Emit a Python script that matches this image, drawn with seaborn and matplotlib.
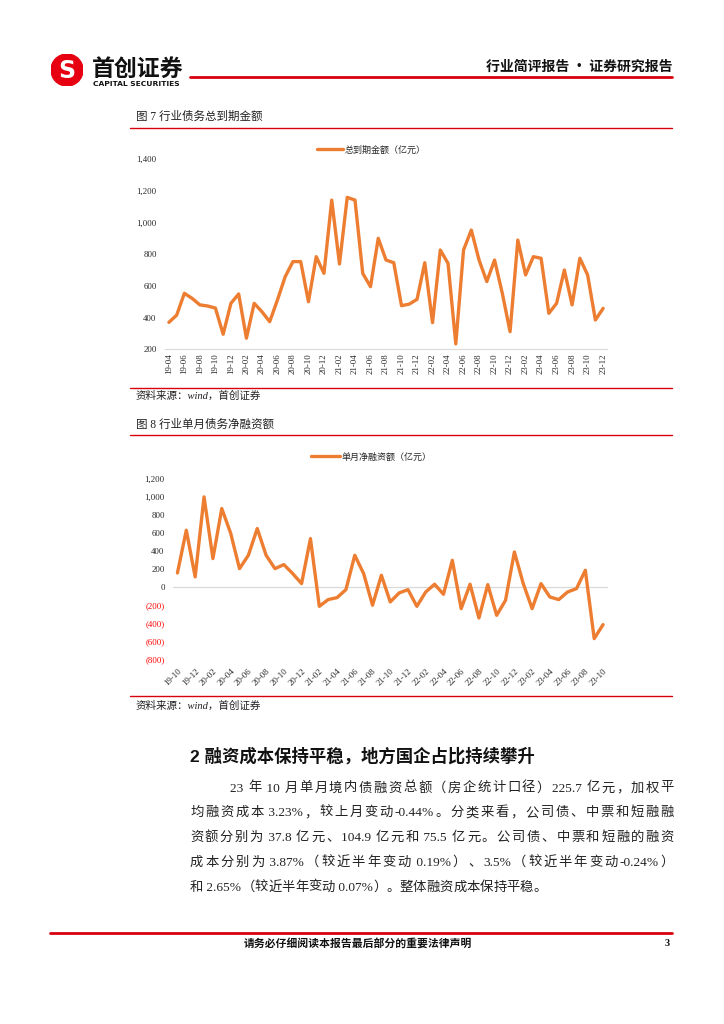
import numpy as np
import pandas as pd
import matplotlib
matplotlib.use("Agg")
import matplotlib.pyplot as plt
import seaborn as sns
from matplotlib.patches import Circle

## Datos (en 亿元)
total_vencimiento = [370, 415, 553, 521, 480, 473, 460, 295, 490,
                     549, 270, 490, 437, 374, 511, 658, 753, 753, 500, 784, 679,
                     1141, 738, 1158, 1141, 679, 595, 900, 763, 746, 475, 485, 515,
                     746, 368, 826, 742, 234, 826, 952, 763, 627, 763, 553, 311,
                     889, 669, 784, 774, 427, 490, 700, 480, 774, 669, 385, 458]
etiquetas_1 = ["19-04", "19-06", "19-08", "19-10", "19-12", "20-02", "20-04", "20-06",
               "20-08", "20-10", "20-12", "21-02", "21-04", "21-06", "21-08", "21-10",
               "21-12", "22-02", "22-04", "22-06", "22-08", "22-10", "22-12", "23-02",
               "23-04", "23-06", "23-08", "23-10", "23-12"]

neto_mensual = [156, 632, 112,
                1004, 316, 874, 600, 204, 353, 651, 353, 204, 249, 149, 37,
                539, -216, -141, -119, -30, 353, 149, -204, 130, -167, -67, -30,
                -216, -56, 30, -82, 297, -242, 30, -346, 26, -316, -149, 390,
                37, -242, 37, -112, -141, -56, -19, 186, -576, -420]
etiquetas_2 = ["19-10", "19-12", "20-02", "20-04", "20-06", "20-08", "20-10", "20-12",
               "21-02", "21-04", "21-06", "21-08", "21-10", "21-12", "22-02", "22-04",
               "22-06", "22-08", "22-10", "22-12", "23-02", "23-04", "23-06", "23-08",
               "23-10"]

ticks_y1 = [200, 400, 600, 800, 1000, 1200, 1400]
ticks_y2 = [-800, -600, -400, -200, 0, 200, 400, 600, 800, 1000, 1200]

parrafo = ["23 年 10 月单月境内债融资总额（房企统计口径）225.7 亿元，加权平",
           "均融资成本 3.23%，较上月变动-0.44%。分类来看，公司债、中票和短融融",
           "资额分别为 37.8 亿元、104.9 亿元和 75.5 亿元。公司债、中票和短融的融资",
           "成本分别为 3.87%（较近半年变动 0.19%）、3.5%（较近半年变动-0.24%）",
           "和 2.65%（较近半年变动 0.07%）。整体融资成本保持平稳。"]

sns.set_style("white")
plt.rcParams['font.family'] = ['Liberation Serif', 'Noto Sans CJK SC', 'DejaVu Sans']

W, H = 724, 1024
naranja = "#ED7D31"
rojo = "#D7000F"
gris = "#D9D9D9"
cjk = ['Noto Sans CJK SC', 'DejaVu Sans']
mixta = ['Liberation Serif', 'Noto Sans CJK SC']


def px(x, y):
    # pixeles (desde arriba a la izquierda) -> fraccion de figura
    return x / W, 1 - y / H


def caja(x0, y0, x1, y1):
    return [x0 / W, 1 - y1 / H, (x1 - x0) / W, (y1 - y0) / H]


def linea_h(fig, x0, x1, y, lw, color=rojo):
    fig.add_artist(plt.Line2D([x0 / W, x1 / W], [1 - y / H, 1 - y / H],
                              transform=fig.transFigure, color=color, lw=lw))


def ancho(fig, r, s, **kw):
    # ancho en pixeles (con espacios finales) usando un caracter testigo
    t = fig.text(0, 0, s + "|", **kw)
    t2 = fig.text(0, 0, "|", **kw)
    w = t.get_window_extent(renderer=r).width - t2.get_window_extent(renderer=r).width
    t.remove()
    t2.remove()
    return w


def texto_justificado(fig, linea, x0, x1, y, justificar=True, **kw):
    # trozos: cada caracter no ascii por separado, las secuencias ascii juntas
    trozos = []
    for c in linea:
        if ord(c) < 128 and trozos and all(ord(k) < 128 for k in trozos[-1]):
            trozos[-1] += c
        else:
            trozos.append(c)
    r = fig.canvas.get_renderer()
    total = ancho(fig, r, linea, **kw)
    extra = (x1 - x0 - total) / (len(trozos) - 1) if justificar else 0
    prefijo = ""
    for i, tr in enumerate(trozos):
        xi = x0 + ancho(fig, r, prefijo, **kw) + extra * i if prefijo else x0
        fig.text(*px(xi, y), tr, ha="left", va="baseline", **kw)
        prefijo += tr


fig = plt.figure(figsize=(W / 100, H / 100), dpi=100)

#%% Cabecera
ax_logo = fig.add_axes(caja(51, 54, 83, 86))
ax_logo.set_xlim(-1, 1)
ax_logo.set_ylim(-1, 1)
ax_logo.set_aspect("equal")
ax_logo.axis("off")
ax_logo.add_patch(Circle((0, 0), 1, color="#E60012"))
ax_logo.text(0, -0.05, "S", color="white", fontsize=17, fontweight="bold",
             ha="center", va="center", family="DejaVu Sans")

fig.text(*px(92, 69), "首创证券", fontsize=16.5, fontweight="bold", family=cjk,
         ha="left", va="center", color="#111111")
fig.text(*px(93, 83.5), "CAPITAL SECURITIES", fontsize=5.4, fontweight="bold",
         family=["DejaVu Sans"], ha="left", va="center", color="#111111")
linea_h(fig, 190, 672, 76.5, 2.0)
fig.text(*px(672, 67), "行业简评报告 · 证券研究报告", fontsize=10, fontweight="bold",
         family=cjk, ha="right", va="center", color="#111111")

#%% Grafico 7
fig.text(*px(136, 117), "图 7 行业债务总到期金额", fontsize=8.3, family=mixta,
         ha="left", va="center", color="#222222")
linea_h(fig, 130, 672, 127.5, 1.0)

ax1 = fig.add_axes(caja(165, 159, 607, 349.3))
df1 = pd.DataFrame({"mes": np.arange(len(total_vencimiento)), "valor": total_vencimiento})
sns.lineplot(data=df1, x="mes", y="valor", ax=ax1, color=naranja, linewidth=2.4,
             label="总到期金额（亿元）")
ax1.set_xlim(-0.5, len(total_vencimiento) - 0.5)
ax1.set_ylim(200, 1400)
ax1.set_yticks(ticks_y1)
ax1.set_yticklabels([f"{v:,}" for v in ticks_y1], fontsize=6.3)
ax1.set_xticks(np.arange(0, len(total_vencimiento), 2))
ax1.set_xticklabels(etiquetas_1, rotation=90, fontsize=6.3)
ax1.tick_params(length=0, pad=6)
ax1.tick_params(axis="x", pad=3)
ax1.set_xlabel("")
ax1.set_ylabel("")
for s in ax1.spines.values():
    s.set_visible(False)
ax1.spines["bottom"].set_visible(True)
ax1.spines["bottom"].set_color(gris)
ax1.legend(loc="center", bbox_to_anchor=px(371, 150), bbox_transform=fig.transFigure,
           frameon=False, prop={"family": cjk, "size": 6.5}, handlelength=2.9,
           handletextpad=0.2)

linea_h(fig, 130, 672, 387.5, 1.0)
fig.text(*px(136, 396), "资料来源：wind，首创证券", fontsize=7.6, family=mixta,
         style="italic", ha="left", va="center", color="#222222")

#%% Grafico 8
fig.text(*px(136, 425), "图 8 行业单月债务净融资额", fontsize=8.3, family=mixta,
         ha="left", va="center", color="#222222")
linea_h(fig, 130, 672, 434.5, 1.0)

ax2 = fig.add_axes(caja(173, 479.3, 607.5, 658.7))
df2 = pd.DataFrame({"mes": np.arange(len(neto_mensual)), "valor": neto_mensual})
ax2.axhline(0, color=gris, lw=0.9, zorder=0)
sns.lineplot(data=df2, x="mes", y="valor", ax=ax2, color=naranja, linewidth=2.4,
             label="单月净融资额（亿元）")
ax2.set_xlim(-0.5, len(neto_mensual) - 0.5)
ax2.set_ylim(-800, 1200)
ax2.set_yticks(ticks_y2)
ax2.set_yticklabels([f"({abs(v):,})" if v < 0 else f"{v:,}" for v in ticks_y2], fontsize=6.3)
for lbl, v in zip(ax2.get_yticklabels(), ticks_y2):
    if v < 0:
        lbl.set_color("red")
ax2.set_xticks(np.arange(0, len(neto_mensual), 2))
ax2.set_xticklabels(etiquetas_2, rotation=45, ha="right", rotation_mode="anchor", fontsize=6.3)
ax2.tick_params(length=0, pad=6)
ax2.set_xlabel("")
ax2.set_ylabel("")
for s in ax2.spines.values():
    s.set_visible(False)
ax2.legend(loc="center", bbox_to_anchor=px(371, 457), bbox_transform=fig.transFigure,
           frameon=False, prop={"family": cjk, "size": 6.5}, handlelength=3.2,
           handletextpad=0.2)

linea_h(fig, 130, 672, 696, 1.0)
fig.text(*px(136, 706), "资料来源：wind，首创证券", fontsize=7.6, family=mixta,
         style="italic", ha="left", va="center", color="#222222")

#%% Texto
fig.text(*px(190, 756), "2 融资成本保持平稳，地方国企占比持续攀升", fontsize=12.5,
         fontweight="bold", family=["Liberation Sans", "Noto Sans CJK SC"],
         ha="left", va="center", color="#111111")
for i, linea in enumerate(parrafo):
    x0 = 230 if i == 0 else 190
    texto_justificado(fig, linea, x0, 674, 791.5 + 24.8 * i,
                      justificar=(i < len(parrafo) - 1),
                      fontsize=9.6, family=mixta, color="#222222")

#%% Pie de pagina
linea_h(fig, 50, 672, 933, 2.0)
fig.text(*px(358, 943), "请务必仔细阅读本报告最后部分的重要法律声明", fontsize=7.8,
         fontweight="bold", family=cjk, ha="center", va="center", color="#111111")
fig.text(*px(670, 943), "3", fontsize=7.5, fontweight="bold", family=mixta,
         ha="right", va="center", color="#111111")

fig.savefig("out.png", dpi=100)
